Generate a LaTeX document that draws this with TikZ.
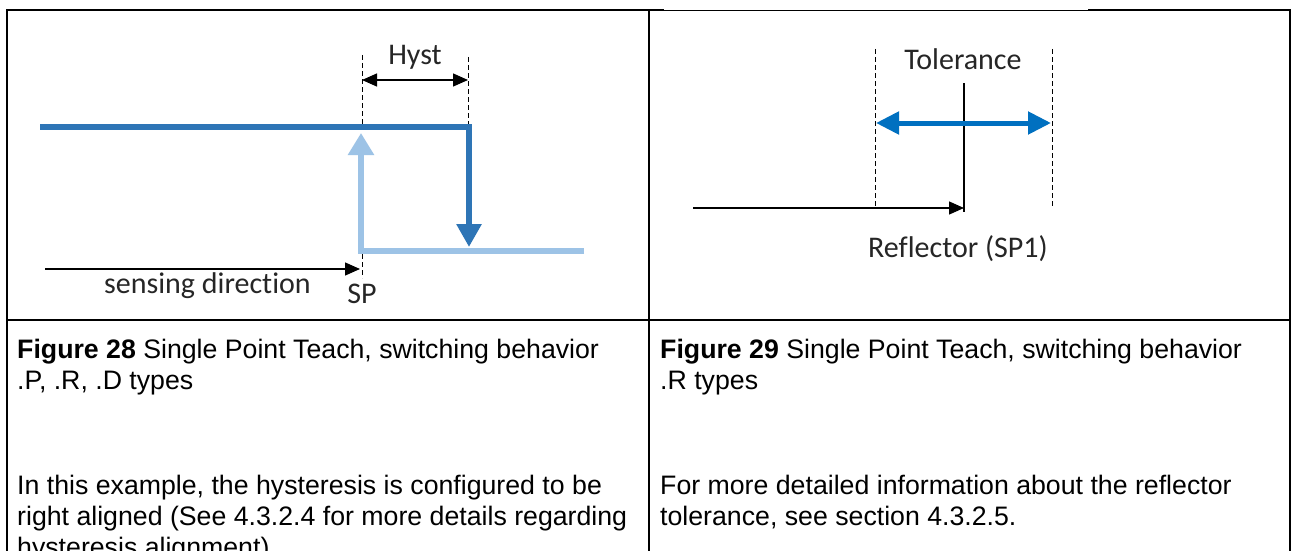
\documentclass[tikz,border=0pt]{standalone}
\usepackage{fontspec}
\setmainfont{Liberation Sans}
\newfontfamily\calfont[Ligatures=NoCommon]{Carlito}
\usetikzlibrary{arrows.meta}
\definecolor{dkblue}{RGB}{46,117,182}
\definecolor{ltblue}{RGB}{157,195,230}
\definecolor{tolblue}{RGB}{0,112,192}
\definecolor{lbl}{RGB}{38,38,38}
\begin{document}
\begin{tikzpicture}[x=1pt,y=-1pt,
  frame/.style={line width=2pt,black},
  thinframe/.style={line width=0.8pt,black},
  guide/.style={line width=1pt,dash pattern=on 5pt off 3pt},
  blk/.style={line width=1.3pt,-{Triangle[length=15pt,width=13pt]}},
  dimarrow/.style={line width=1.3pt,{Triangle[length=15pt,width=13pt]}-{Triangle[length=15pt,width=13pt]}},
  lbltext/.style={font=\calfont\fontsize{30}{36}\selectfont,text=lbl,inner sep=0pt},
  body/.style={font=\fontsize{26.7}{31}\selectfont,inner sep=0pt,anchor=base west},
]
\useasboundingbox (0,0) rectangle (1295,551);
\clip (0,0) rectangle (1295,551);
\fill[white] (0,0) rectangle (1295,551);
% table frame
\coordinate (tl) at (7,10);
\coordinate (bl) at (7,560);
\coordinate (tm) at (649,10);
\coordinate (bm) at (649,560);
\coordinate (tr) at (1290,10);
\coordinate (br) at (1290,560);
\coordinate (ml) at (7,320);
\coordinate (mr) at (1290,320);
\coordinate (gapA) at (664,10);
\coordinate (gapB) at (1088,10);
\draw[frame] (bl) -- (tl) -- (gapA);
\draw[thinframe] (gapA) -- (gapB);
\draw[frame] (gapB) -- (tr) -- (br);
\draw[frame] (tm) -- (bm);
\draw[frame] (ml) -- (mr);
% left diagram
\coordinate (loR) at (584,251);
\coordinate (loL) at (361,251);
\coordinate (loEnd) at (361,133);
\coordinate (hiL) at (40,127);
\coordinate (hiR) at (469,127);
\coordinate (hiEnd) at (469,247);
\draw[ltblue,line width=6pt,line join=miter,-{Triangle[length=22pt,width=25pt]}] (loR) -- (loL) -- (loEnd);
\draw[dkblue,line width=6pt,line join=miter,-{Triangle[length=23pt,width=24pt]}] (hiL) -- (hiR) -- (hiEnd);
\coordinate (g1a) at (362,55);
\coordinate (g1b) at (362,124);
\coordinate (g2a) at (468,57);
\coordinate (g2b) at (468,124);
\coordinate (g3a) at (362,254);
\coordinate (g3b) at (362,278);
\draw[guide] (g1a) -- (g1b);
\draw[guide] (g2a) -- (g2b);
\draw[guide] (g3a) -- (g3b);
\coordinate (hA) at (362,80);
\coordinate (hB) at (468,80);
\draw[dimarrow] (hA) -- (hB);
\node[lbltext,anchor=base] (hyst) at (415,64) {Hyst};
\coordinate (sA) at (45,269);
\coordinate (sB) at (360,269);
\draw[blk] (sA) -- (sB);
\node[lbltext,anchor=base west] (sens) at (104,293) {sensing direction};
\node[lbltext,anchor=base] (sp) at (362,303) {SP};
% right diagram
\coordinate (t1a) at (875,49);
\coordinate (t1b) at (875,207);
\coordinate (t2a) at (1052,49);
\coordinate (t2b) at (1052,207);
\draw[guide] (t1a) -- (t1b);
\draw[guide] (t2a) -- (t2b);
\coordinate (rA) at (964,83);
\coordinate (rB) at (964,212);
\draw[line width=1.5pt] (rA) -- (rB);
\coordinate (tA) at (876,123);
\coordinate (tB) at (1051,123);
\draw[tolblue,line width=5pt,{Triangle[length=23pt,width=22pt]}-{Triangle[length=23pt,width=22pt]}] (tA) -- (tB);
\coordinate (fA) at (693,208);
\coordinate (fB) at (964,208);
\draw[blk] (fA) -- (fB);
\node[lbltext,anchor=base] (tol) at (963,70) {Tolerance};
\node[lbltext,anchor=base west] (refl) at (868,257) {Reflector (SP1)};
% captions
\node[body] (c1) at (17,358) {\textbf{Figure 28} Single Point Teach, switching behavior};
\node[body] (c2) at (17,389) {.P, .R, .D types};
\node[body] (c3) at (17,494) {In this example, the hysteresis is configured to be};
\node[body] (c4) at (17,525) {right aligned (See 4.3.2.4 for more details regarding};
\node[body] (c5) at (17,556) {hysteresis alignment)};
\node[body] (d1) at (660,358) {\textbf{Figure 29} Single Point Teach, switching behavior};
\node[body] (d2) at (660,389) {.R types};
\node[body] (d3) at (660,494) {For more detailed information about the reflector};
\node[body] (d4) at (660,525) {tolerance, see section 4.3.2.5.};
\end{tikzpicture}
\end{document}
